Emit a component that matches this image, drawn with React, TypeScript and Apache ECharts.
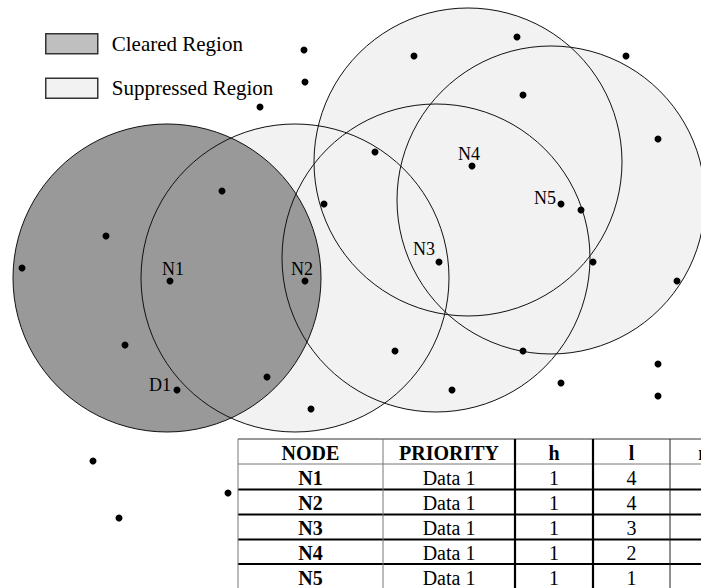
import React, { useEffect, useRef } from "react";
import * as echarts from "echarts";

// ---- data ----
const clearedCenters = [[167, 278]]; // coverage circle of N1
const suppressedCenters = [
  [295, 278],
  [436, 258],
  [468, 162],
  [551, 200],
];
const circleDiameter = 308;

const nodeNames = ["N1", "N2", "N3", "N4", "N5", "D1"];
const nodeX = [170, 305, 439, 472, 561, 177];
const nodeY = [281, 281, 262, 166, 204, 390];
const nodeLabelOffsets = [
  [3, -12],
  [-3, -12],
  [-15, -13],
  [-3, -12],
  [-16, -6],
  [-17, -5],
];

const otherDots = [
  [304, 50], [305, 82], [260, 107], [414, 56], [517, 37], [626, 56], [523, 95], [658, 139],
  [375, 152], [581, 210], [324, 204], [222, 191], [106, 236], [22, 268], [593, 262], [677, 281],
  [125, 345], [395, 351], [523, 351], [658, 364], [267, 377], [452, 390], [561, 383], [658, 396],
  [311, 409], [93, 461], [228, 493], [119, 518],
];

const tableHeaders = ["NODE", "PRIORITY", "h", "l", "m"];
const tableNodes = ["N1", "N2", "N3", "N4", "N5"];
const tablePriority = ["Data 1", "Data 1", "Data 1", "Data 1", "Data 1"];
const tableH = ["1", "1", "1", "1", "1"];
const tableL = ["4", "4", "3", "2", "1"];

const legendNames = ["Cleared Region", "Suppressed Region"];

const SERIF = "'Liberation Serif', 'Times New Roman', serif";

function buildTable(): any[] {
  const colEdges = [238, 383, 515, 593, 670, 743];
  const rowEdges = [439, 464, 489.5, 514.5, 539.5, 564, 589];
  const els: any[] = [];
  els.push({
    type: "rect",
    shape: { x: colEdges[0], y: rowEdges[0], width: 701 - colEdges[0], height: 588 - rowEdges[0] },
    style: { fill: "#fff" },
    z: 0,
  });
  rowEdges.forEach((y, i) => {
    const thin = i <= 1;
    els.push({
      type: "line",
      shape: { x1: colEdges[0], y1: y, x2: 760, y2: y },
      style: { stroke: thin ? (i === 0 ? "#333" : "#777") : "#000", lineWidth: thin ? 1 : 2.2 },
      z: 2,
    });
  });
  colEdges.slice(0, 5).forEach((x, i) => {
    const thick = i === 2 || i === 3;
    els.push({
      type: "line",
      shape: { x1: x, y1: rowEdges[0], x2: x, y2: 600 },
      style: { stroke: thick ? "#000" : i === 4 ? "#222" : "#777", lineWidth: thick ? 2.2 : 1 },
      z: 2,
    });
  });
  const cellText = (text: string, c: number, r: number, bold: boolean) => {
    const cx = (colEdges[c] + colEdges[c + 1]) / 2;
    const cy = (rowEdges[r] + rowEdges[r + 1]) / 2 + 1;
    els.push({
      type: "text",
      x: cx,
      y: cy,
      style: {
        text,
        fill: "#000",
        font: `${bold ? "bold " : ""}20px ${SERIF}`,
        align: "center",
        verticalAlign: "middle",
      },
      z: 3,
    });
  };
  tableHeaders.forEach((h, c) => cellText(h, c, 0, true));
  tableNodes.forEach((n, r) => {
    cellText(n, 0, r + 1, true);
    cellText(tablePriority[r], 1, r + 1, false);
    cellText(tableH[r], 2, r + 1, false);
    cellText(tableL[r], 3, r + 1, false);
  });
  return els;
}

export default function App() {
  const ref = useRef<HTMLDivElement>(null);
  useEffect(() => {
    if (!ref.current) return;
    const chart = echarts.init(ref.current, undefined, { renderer: "svg" });
    const nodeData = nodeNames.map((n, i) => ({
      name: n,
      value: [nodeX[i], nodeY[i]],
      label: {
        show: true,
        formatter: n,
        position: "inside",
        offset: nodeLabelOffsets[i],
        fontFamily: SERIF,
        fontSize: 18,
        color: "#000",
      },
    }));
    const allCenters = [...clearedCenters, ...suppressedCenters];
    chart.setOption({
      animation: false,
      backgroundColor: "#fff",
      grid: { left: 0, right: 0, top: 0, bottom: 0, containLabel: false },
      xAxis: { type: "value", min: 0, max: 701, show: false },
      yAxis: { type: "value", min: 0, max: 588, inverse: true, show: false },
      legend: {
        orient: "vertical",
        left: 40,
        top: 28,
        itemWidth: 52,
        itemHeight: 20,
        itemGap: 23,
        icon: "rect",
        selectedMode: false,
        textStyle: { fontFamily: SERIF, fontSize: 21, color: "#000", padding: [0, 0, 0, 9] },
        data: [
          { name: legendNames[0], itemStyle: { color: "#bfbfbf", borderColor: "#333", borderWidth: 1.5 } },
          { name: legendNames[1], itemStyle: { color: "#f2f2f2", borderColor: "#333", borderWidth: 1.5 } },
        ],
      },
      series: [
        {
          name: legendNames[1],
          type: "scatter",
          silent: true,
          clip: false,
          symbol: "circle",
          symbolSize: circleDiameter,
          itemStyle: { color: "#f2f2f2", opacity: 1 },
          data: suppressedCenters,
          z: 1,
        },
        {
          name: legendNames[0],
          type: "scatter",
          silent: true,
          clip: false,
          symbol: "circle",
          symbolSize: circleDiameter,
          itemStyle: { color: "#999999", opacity: 1 },
          data: clearedCenters,
          z: 2,
        },
        {
          name: "outline",
          type: "scatter",
          silent: true,
          clip: false,
          symbol: "circle",
          symbolSize: circleDiameter,
          itemStyle: { color: "rgba(0,0,0,0)", borderColor: "#111", borderWidth: 1, opacity: 1 },
          data: allCenters,
          z: 3,
        },
        {
          name: "dots",
          type: "scatter",
          silent: true,
          symbolSize: 7,
          itemStyle: { color: "#000", opacity: 1 },
          data: otherDots,
          z: 4,
        },
        {
          name: "nodes",
          type: "scatter",
          silent: true,
          symbolSize: 7,
          itemStyle: { color: "#000", opacity: 1 },
          data: nodeData,
          z: 5,
        },
      ],
      graphic: buildTable(),
    });
    return () => chart.dispose();
  }, []);
  return (
    <div
      ref={ref}
      style={{ position: "fixed", left: 0, top: 0, width: 701, height: 588, background: "#fff" }}
    />
  );
}
